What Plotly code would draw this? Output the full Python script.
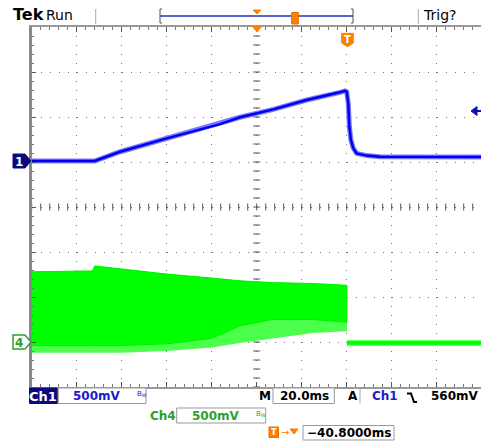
import numpy as np
import plotly.graph_objects as go

W, H = 481, 444

# ---------------- data (scope units) ----------------
# Channel 1 (blue), time in ms, voltage in V
ch1_t = [0, 28, 39.3, 60, 83.7, 92.6, 107.4, 122.2, 137, 139.2, 140.0, 140.7, 141.2, 141.9, 142.9, 144.4, 148.9, 154.8, 200]
ch1_v = [0, 0, 0.103, 0.252, 0.41, 0.486, 0.574, 0.678, 0.763, 0.78, 0.77, 0.64, 0.38, 0.23, 0.144, 0.085, 0.06, 0.048, 0.045]

# Channel 4 (green) burst envelope, time in ms, voltage in V
ch4_env_t = [0, 27, 28, 40, 60, 80, 92.6, 107, 125, 140.1]
ch4_upper = [0.78, 0.79, 0.845, 0.81, 0.755, 0.71, 0.68, 0.66, 0.65, 0.63]
ch4_dense_low = [-0.04, -0.04, -0.04, -0.04, -0.02, 0.04, 0.18, 0.25, 0.25, 0.22]
ch4_spike_low = [-0.12, -0.12, -0.12, -0.12, -0.10, -0.06, -0.01, 0.04, 0.10, 0.12]
ch4_after_t = [140.1, 200]
ch4_after_v = [-0.01, -0.01]

ch1_offset_div = 1.022
ch4_offset_div = -3.0
volts_per_div = 0.5
ms_per_div = 20.0

# ---------------- geometry helpers ----------------
X_LEFT, X_RIGHT_FULL = 31.7, 481.7
Y_TOP, Y_BOT = 27.0, 387.0
x_range_max = 10 * ms_per_div * (W - X_LEFT) / (X_RIGHT_FULL - X_LEFT)


def px(x):
    return x / W


def py(y):
    return 1 - y / H


def to_div(v, off):
    return [off + vv / volts_per_div for vv in v]


fig = go.Figure()

# centre cross ticks
cy = np.arange(-4, 4.001, 0.2)
cx = np.arange(0, x_range_max, ms_per_div / 5)
fig.add_trace(go.Scatter(x=[5 * ms_per_div] * len(cy), y=cy, mode="markers",
                         marker=dict(symbol="line-ew", size=5, line=dict(width=1, color="#555")),
                         hoverinfo="skip", showlegend=False))
fig.add_trace(go.Scatter(x=cx, y=[0] * len(cx), mode="markers",
                         marker=dict(symbol="line-ns", size=5, line=dict(width=1, color="#555")),
                         hoverinfo="skip", showlegend=False))

# green: spike envelope (light)
up = to_div(ch4_upper, ch4_offset_div)
dl = to_div(ch4_dense_low, ch4_offset_div)
sl = to_div(ch4_spike_low, ch4_offset_div)
fig.add_trace(go.Scatter(x=ch4_env_t + ch4_env_t[::-1], y=up + sl[::-1], fill="toself",
                         fillcolor="#4dff4d", line=dict(width=0, color="#4dff4d"),
                         mode="lines", hoverinfo="skip", showlegend=False))
fig.add_trace(go.Scatter(x=ch4_env_t + ch4_env_t[::-1], y=up + dl[::-1], fill="toself",
                         fillcolor="#00ff00", line=dict(width=1, color="#00f000"),
                         mode="lines", hoverinfo="skip", showlegend=False))
fig.add_trace(go.Scatter(x=ch4_after_t, y=to_div(ch4_after_v, ch4_offset_div), mode="lines",
                         line=dict(width=6, color="#66ff66"), hoverinfo="skip", showlegend=False))
fig.add_trace(go.Scatter(x=ch4_after_t, y=to_div(ch4_after_v, ch4_offset_div), mode="lines",
                         line=dict(width=3.5, color="#00ff00"), hoverinfo="skip", showlegend=False))

# blue
fig.add_trace(go.Scatter(x=ch1_t, y=to_div(ch1_v, ch1_offset_div), mode="lines",
                         line=dict(width=5, color="#7a7aff"), hoverinfo="skip", showlegend=False))
fig.add_trace(go.Scatter(x=ch1_t, y=to_div(ch1_v, ch1_offset_div), mode="lines",
                         line=dict(width=2.5, color="#0000f0"), hoverinfo="skip", showlegend=False))

fig.update_layout(
    width=W, height=H, margin=dict(l=0, r=0, t=0, b=0),
    paper_bgcolor="white", plot_bgcolor="white",
    xaxis=dict(domain=[X_LEFT / W, 1], range=[0, x_range_max], dtick=ms_per_div, tick0=0,
               showticklabels=False, showgrid=True, gridcolor="#777", gridwidth=1,
               griddash="1px,8px", zeroline=False,
               showline=True, linecolor="#999", linewidth=2, mirror="allticks",
               ticks="inside", ticklen=5, tickcolor="#555",
               minor=dict(ticks="inside", ticklen=3, dtick=ms_per_div / 5, tickcolor="#777", showgrid=False)),
    yaxis=dict(domain=[py(Y_BOT), py(Y_TOP)], range=[-4, 4], dtick=1, tick0=0,
               showticklabels=False, showgrid=True, gridcolor="#777", gridwidth=1,
               griddash="1px,8px", zeroline=False,
               showline=True, linecolor="#8a8a8a", linewidth=3,
               ticks="inside", ticklen=4, tickcolor="#555",
               minor=dict(ticks="inside", ticklen=2, dtick=0.2, tickcolor="#777", showgrid=False)),
)

shapes = []
ann = []
FONT = "DejaVu Sans"


def rect(x0, y0, x1, y1, fill="white", line="#999", lw=1):
    shapes.append(dict(type="rect", xref="paper", yref="paper", x0=px(x0), x1=px(x1), y0=py(y1), y1=py(y0),
                       fillcolor=fill, line=dict(color=line, width=lw), layer="above"))


def seg(x0, y0, x1, y1, color="#999", lw=1):
    shapes.append(dict(type="line", xref="paper", yref="paper", x0=px(x0), x1=px(x1), y0=py(y0), y1=py(y1),
                       line=dict(color=color, width=lw), layer="above"))


def poly(pts, fill, line=None, lw=1, close=True):
    p = "M " + " L ".join(f"{px(a)},{py(b)}" for a, b in pts) + (" Z" if close else "")
    shapes.append(dict(type="path", xref="paper", yref="paper", path=p, fillcolor=fill,
                       line=dict(color=line or fill, width=lw), layer="above"))


def text(x, y, s, size=12, color="black", anchor="left", bold=True, fam=FONT):
    if bold:
        s = f"<b>{s}</b>"
    ann.append(dict(xref="paper", yref="paper", x=px(x), y=py(y), text=s, showarrow=False,
                    xanchor=anchor, yanchor="middle", font=dict(family=fam, size=size, color=color)))


# ---- header ----
text(11, 15, "Tek", size=16, bold=True)
text(44, 15, "Run", size=14, bold=False)
seg(95.7, 9, 95.7, 24, "#aaa")
seg(418.3, 9, 418.3, 24, "#aaa")
text(421, 15, "Trig?", size=14, bold=False)
seg(160, 16, 353, 16, "#2030c0", 1.5)
seg(160, 9, 160, 23, "#555")
seg(160, 9, 162, 9, "#555")
seg(160, 23, 162, 23, "#555")
seg(353, 9, 353, 23, "#555")
seg(351, 9, 353, 9, "#555")
seg(351, 23, 353, 23, "#555")
poly([(253, 10), (261, 10), (257, 14)], "#ff8000")
shapes.append(dict(type="rect", xref="paper", yref="paper", x0=px(291.7), x1=px(298.3), y0=py(24), y1=py(12.5),
                   fillcolor="#ff8000", line=dict(color="#e07000", width=1), layer="above"))

# graticule markers
poly([(252, 26), (262, 26), (257, 32)], "#ff8000")
poly([(341.7, 33.3), (353.3, 33.3), (353.3, 43), (347.5, 46.7), (341.7, 43)], "#ff8000")
text(347.5, 39.5, "T", size=10, color="white", anchor="center", bold=True)
# trigger level arrow
poly([(471, 111), (477, 106.5), (477, 115.5)], "#1010b0")
seg(477, 111, 481, 111, "#1010b0", 2)

# channel markers
poly([(13, 154), (25, 154), (31, 161), (25, 168), (13, 168)], "#0a0a80")
text(18.5, 161.5, "1", size=12, color="white", anchor="center", bold=True)
poly([(13, 335), (25, 335), (31, 342), (25, 349), (13, 349)], "white", "#30a030", 1.5)
text(19, 342.5, "4", size=12, color="#30a030", anchor="center", bold=True)

# ---- bottom readouts ----
BLUE = "#1c1cc8"
GREEN = "#2ca02c"
rect(29.5, 388, 57.3, 403.5, fill="#0a0a80", line="#0a0a80")
text(43.4, 396, "Ch1", size=13, color="white", anchor="center", bold=True)
rect(58.3, 388, 146, 403.5)
text(97, 396, "500mV", color=BLUE, anchor="center")
text(141.5, 394, "B<sub>W</sub>", size=7, color=BLUE, anchor="center", bold=False)
text(272.7, 396, "M", anchor="right")
rect(273, 388, 334.3, 403.5)
text(304, 396, "20.0ms", anchor="center")
text(352.5, 396, "A", anchor="center")
seg(360, 388, 360, 403.5, "#aaa")
text(369.5, 396, "Ch1", color=BLUE)
# falling-edge symbol
poly([(407, 393.5), (411, 393.5), (414, 402), (417, 402)], "rgba(0,0,0,0)", "black", 2, close=False)
text(481, 396, "560mV", anchor="right")

text(147.5, 415.5, "Ch4", color=GREEN)
rect(176.7, 408, 265.7, 423)
text(216, 415.5, "500mV", color=GREEN, anchor="center")
text(260.5, 413.5, "B<sub>W</sub>", size=7, color=GREEN, anchor="center", bold=False)

shapes.append(dict(type="rect", xref="paper", yref="paper", x0=px(269), x1=px(278.5), y0=py(437.5), y1=py(427),
                   fillcolor="#ff8000", line=dict(color="#e07000", width=1), layer="above"))
text(273.8, 432.3, "T", size=8, color="white", anchor="center", bold=True)
text(279, 432, "\u2192", size=10, color="#ff8000", bold=False)
poly([(290, 429), (298, 429), (294, 434)], "#ff8000")
rect(303, 425.5, 394, 440)
text(348.5, 433, "\u221240.8000ms", anchor="center")

fig.update_layout(shapes=shapes, annotations=ann)
fig.write_html("out.html", config={"displayModeBar": False},
               post_script="document.body.style.margin='0';document.body.style.padding='0';"
                           "document.documentElement.style.overflow='hidden';")
